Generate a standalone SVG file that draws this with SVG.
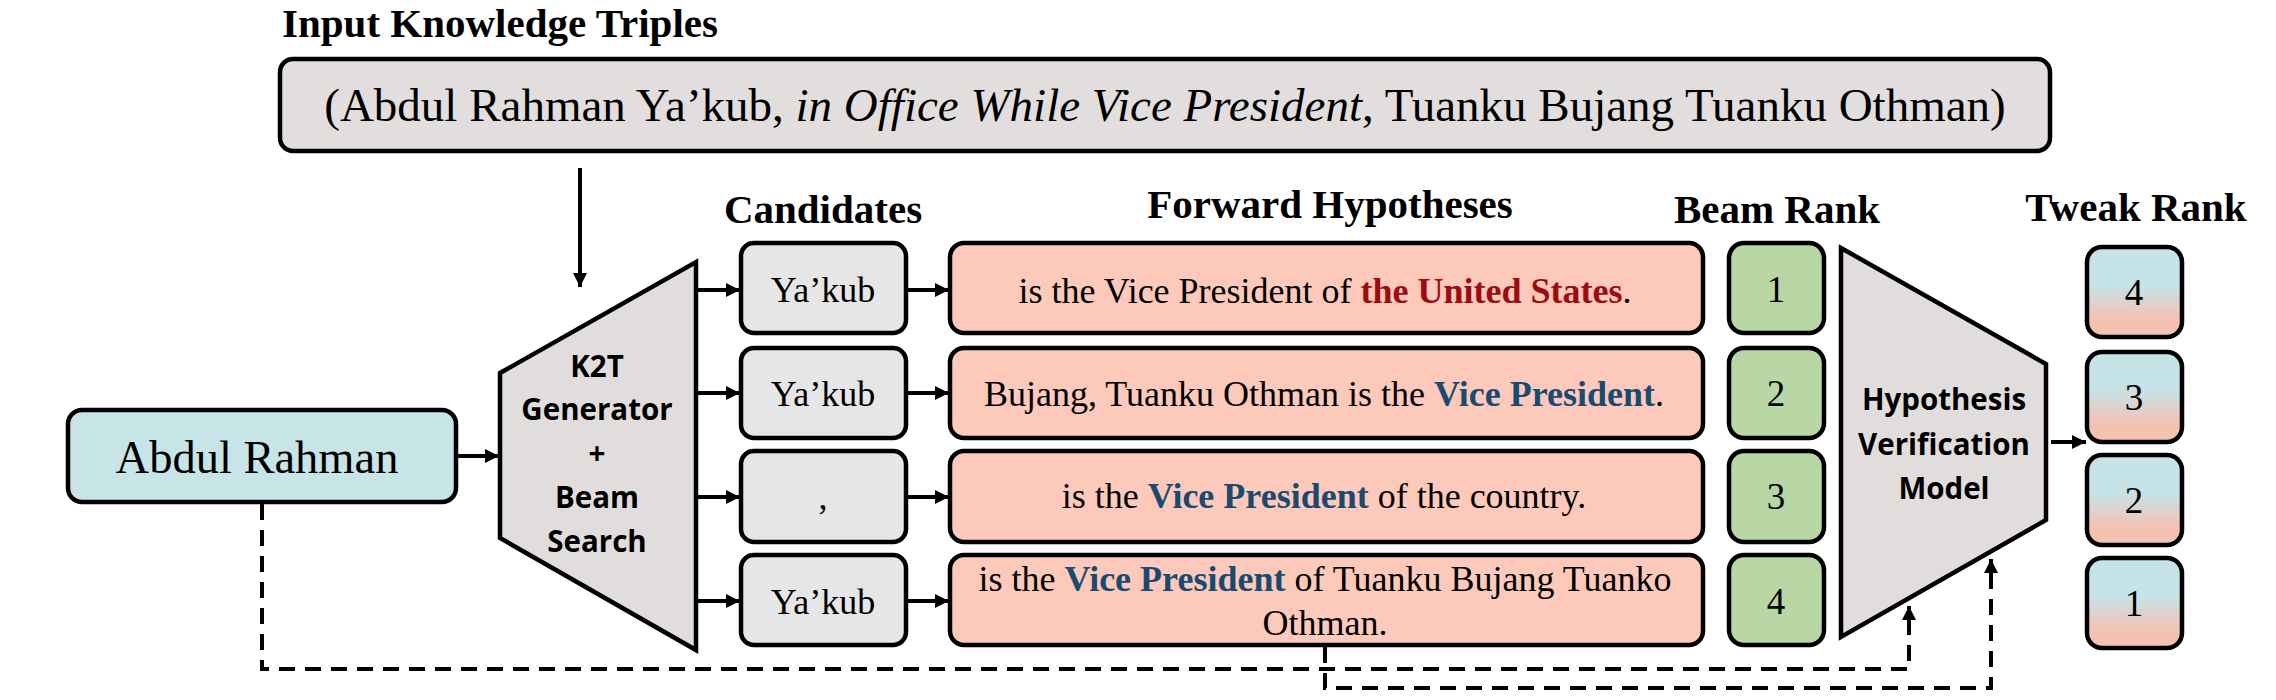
<svg xmlns="http://www.w3.org/2000/svg" width="2276" height="700" viewBox="0 0 2276 700">
<defs>
<style>
.box{stroke:#000;stroke-width:4.5}
.serif{font-family:"Liberation Serif","Times New Roman",serif;fill:#000}
.hdr{font-family:"Liberation Serif","Times New Roman",serif;font-weight:bold;font-size:41px;text-anchor:middle;fill:#000}
.sans{font-family:"Open Sans","Noto Sans","DejaVu Sans",sans-serif;font-weight:bold;font-size:29.5px;text-anchor:middle;fill:#000}
.hyp{font-size:36px;text-anchor:middle}
.num{font-size:37px;text-anchor:middle}
.cand{font-size:36px;text-anchor:middle}
.red{fill:#9d0b12;font-weight:bold}
.blue{fill:#1b4a70;font-weight:bold}
.arr{stroke:#000;stroke-width:4;fill:none;marker-end:url(#ah)}
.dash{stroke:#000;stroke-width:4;fill:none;stroke-dasharray:16 10;marker-end:url(#ah)}
</style>
<marker id="ah" markerUnits="userSpaceOnUse" markerWidth="15" markerHeight="15" refX="14" refY="7" orient="auto">
<path d="M0,0 L14,7 L0,14 z" fill="#000"/>
</marker>
<linearGradient id="tg" x1="0" y1="0" x2="0" y2="1">
<stop offset="0" stop-color="#c6e3e7"/>
<stop offset="0.42" stop-color="#c6e3e7"/>
<stop offset="0.6" stop-color="#dcd3d0"/>
<stop offset="0.8" stop-color="#f3c2b3"/>
<stop offset="1" stop-color="#f3c2b3"/>
</linearGradient>
</defs>
<rect width="2276" height="700" fill="#fff"/>

<g id="headers">
<text class="hdr" x="500" y="37">Input Knowledge Triples</text>
<text class="hdr" x="823" y="223">Candidates</text>
<text class="hdr" x="1330" y="218">Forward Hypotheses</text>
<text class="hdr" x="1777" y="223">Beam Rank</text>
<text class="hdr" x="2136" y="221">Tweak Rank</text>
</g>

<g id="triples">
<rect class="box" x="280" y="59" width="1770" height="92" rx="13" fill="#e1dedd"/>
<text class="serif" x="1165" y="121" font-size="47" text-anchor="middle">(Abdul Rahman Ya’kub, <tspan font-style="italic">in Office While Vice President</tspan>, Tuanku Bujang Tuanku Othman)</text>
</g>

<g id="input-entity">
<rect class="box" x="68" y="410" width="388" height="92" rx="14" fill="#c7e4e7"/>
<text class="serif" x="257" y="473" font-size="46.5" text-anchor="middle">Abdul Rahman</text>
</g>

<g id="k2t">
<polygon class="box" points="500,373 696,262 696,650 500,538" fill="#e1dddc"/>
<text class="sans" x="597" y="377">K2T</text>
<text class="sans" x="597" y="420">Generator</text>
<text class="sans" x="597" y="464">+</text>
<text class="sans" x="597" y="508">Beam</text>
<text class="sans" x="597" y="552">Search</text>
</g>

<g id="candidates">
<rect class="box" x="741" y="243" width="165" height="90" rx="13" fill="#e6e6e6"/>
<text class="serif cand" x="823" y="302">Ya’kub</text>
<rect class="box" x="741" y="348" width="165" height="90" rx="13" fill="#e6e6e6"/>
<text class="serif cand" x="823" y="406">Ya’kub</text>
<rect class="box" x="741" y="451" width="165" height="91" rx="13" fill="#e6e6e6"/>
<text class="serif cand" x="823" y="509">,</text>
<rect class="box" x="741" y="555" width="165" height="90" rx="13" fill="#e6e6e6"/>
<text class="serif cand" x="823" y="614">Ya’kub</text>
</g>

<g id="hypotheses">
<rect class="box" x="950" y="243" width="753" height="90" rx="14" fill="#fdc9bb"/>
<text class="serif hyp" x="1325" y="303">is the Vice President of <tspan class="red">the United States</tspan>.</text>
<rect class="box" x="950" y="348" width="753" height="90" rx="14" fill="#fdc9bb"/>
<text class="serif hyp" x="1324" y="406">Bujang, Tuanku Othman is the <tspan class="blue">Vice President</tspan>.</text>
<rect class="box" x="950" y="451" width="753" height="91" rx="14" fill="#fdc9bb"/>
<text class="serif hyp" x="1324" y="508">is the <tspan class="blue">Vice President</tspan> of the country.</text>
<rect class="box" x="950" y="555" width="753" height="90" rx="14" fill="#fdc9bb"/>
<text class="serif hyp" x="1325" y="591">is the <tspan class="blue">Vice President</tspan> of Tuanku Bujang Tuanko</text>
<text class="serif hyp" x="1325" y="635">Othman.</text>
</g>

<g id="beam-rank">
<rect class="box" x="1729" y="243" width="95" height="90" rx="15" fill="#b9d7a4"/>
<text class="serif num" x="1776" y="302">1</text>
<rect class="box" x="1729" y="348" width="95" height="90" rx="15" fill="#b9d7a4"/>
<text class="serif num" x="1776" y="406">2</text>
<rect class="box" x="1729" y="451" width="95" height="91" rx="15" fill="#b9d7a4"/>
<text class="serif num" x="1776" y="509">3</text>
<rect class="box" x="1729" y="555" width="95" height="90" rx="15" fill="#b9d7a4"/>
<text class="serif num" x="1776" y="614">4</text>
</g>

<g id="hvm">
<polygon class="box" points="1841,248 2046,364 2046,520 1841,637" fill="#e1dddc"/>
<text class="sans" x="1944" y="410">Hypothesis</text>
<text class="sans" x="1944" y="455">Verification</text>
<text class="sans" x="1944" y="499">Model</text>
</g>

<g id="tweak-rank">
<rect class="box" x="2087" y="247" width="95" height="90" rx="15" fill="url(#tg)"/>
<text class="serif num" x="2134" y="305">4</text>
<rect class="box" x="2087" y="352" width="95" height="90" rx="15" fill="url(#tg)"/>
<text class="serif num" x="2134" y="410">3</text>
<rect class="box" x="2087" y="455" width="95" height="90" rx="15" fill="url(#tg)"/>
<text class="serif num" x="2134" y="513">2</text>
<rect class="box" x="2087" y="558" width="95" height="90" rx="15" fill="url(#tg)"/>
<text class="serif num" x="2134" y="616">1</text>
</g>

<g id="connectors">
<line class="arr" x1="580" y1="168" x2="580" y2="287"/>
<line class="arr" x1="456" y1="456" x2="499" y2="456"/>
<line class="arr" x1="698" y1="290" x2="740" y2="290"/>
<line class="arr" x1="698" y1="393" x2="740" y2="393"/>
<line class="arr" x1="698" y1="497" x2="740" y2="497"/>
<line class="arr" x1="698" y1="601" x2="740" y2="601"/>
<line class="arr" x1="908" y1="290" x2="949" y2="290"/>
<line class="arr" x1="908" y1="393" x2="949" y2="393"/>
<line class="arr" x1="908" y1="497" x2="949" y2="497"/>
<line class="arr" x1="908" y1="601" x2="949" y2="601"/>
<line class="arr" x1="2051" y1="442" x2="2086" y2="442"/>
<path class="dash" d="M262,504 V669 H1909 V606"/>
<path class="dash" d="M1325,647 V688 H1991 V559"/>
</g>
</svg>
